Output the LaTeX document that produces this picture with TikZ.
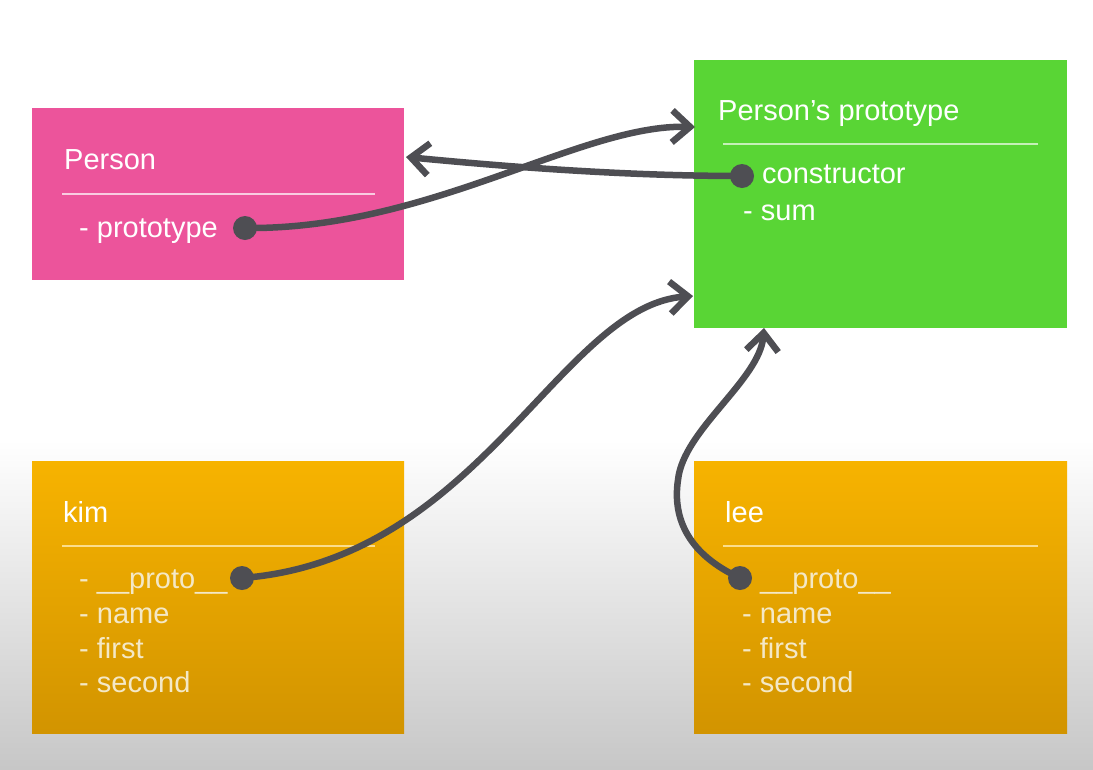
\documentclass[tikz,border=0pt]{standalone}
\usepackage{fontspec}
\setmainfont{Liberation Sans}
\usetikzlibrary{arrows.meta}

\definecolor{personpink}{HTML}{EC549B}
\definecolor{protogreen}{HTML}{59D535}
\definecolor{objtop}{HTML}{F7B300}
\definecolor{objbottom}{HTML}{D29400}
\definecolor{linkgray}{HTML}{4E4E53}
\definecolor{itemcream}{HTML}{F4E8C6}

\begin{document}
\begin{tikzpicture} [
    x=1pt, y=-1pt,
    box/.style={rectangle, inner sep=0pt, outer sep=0pt, minimum width=372pt},
    title/.style={anchor=base west, inner sep=0pt, text=white, font=\fontsize{29}{34}\selectfont},
    item/.style={title},
    sep/.style={line width=1.3pt},
    dot/.style={circle, fill=linkgray, minimum size=24pt, inner sep=0pt},
    link/.style={draw=linkgray, line width=6.5pt, -{Straight Barb[length=18pt,width=32pt]}},
    ]
    \useasboundingbox (0,0) rectangle (1093,769);
    % Background
    \fill[white] (0,0) rectangle (1093,769);
    \shade[top color=white, bottom color=black!22] (0,440) rectangle (1093,769);

    % Person
    \node[box, fill=personpink, minimum height=172pt] (person) at (218,194) {};
    \node[title] (persontitle) at (64,169) {Person};
    \draw[sep, draw=white!70!personpink] (62,194) -- (375,194);
    \node[item] (personproto) at (79,237) {- prototype};
    \node[dot] (persondot) at (245,228) {};

    % Person's prototype
    \node[box, fill=protogreen, minimum width=373pt, minimum height=268pt] (proto) at (880.5,194) {};
    \node[title] (prototitle) at (718,120) {Person’s prototype};
    \draw[sep, draw=white!65!protogreen] (723,144) -- (1038,144);
    \node[item] (protoctor) at (762,183) {constructor};
    \node[item] (protosum) at (743,220) {- sum};
    \node[dot] (ctordot) at (742,176) {};

    % kim
    \node[box, top color=objtop, bottom color=objbottom, minimum height=272pt] (kim) at (218,597) {};
    \node[title] (kimtitle) at (63,522) {kim};
    \draw[sep, draw=white!55!objtop] (62,546) -- (375,546);
    \node[item, text=itemcream] (kimproto) at (79,588) {- \_\_proto\_\_};
    \node[item, text=itemcream] (kimname) at (79,623) {- name};
    \node[item, text=itemcream] (kimfirst) at (79,658) {- first};
    \node[item, text=itemcream] (kimsecond) at (79,692) {- second};
    \node[dot] (kimdot) at (242,578) {};

    % lee
    \node[box, top color=objtop, bottom color=objbottom, minimum width=373pt, minimum height=272pt] (lee) at (880.5,597) {};
    \node[title] (leetitle) at (725,522) {lee};
    \draw[sep, draw=white!55!objtop] (723,546) -- (1038,546);
    \node[item, text=itemcream] (leeproto) at (760,588) {\_\_proto\_\_};
    \node[item, text=itemcream] (leename) at (742,623) {- name};
    \node[item, text=itemcream] (leefirst) at (742,658) {- first};
    \node[item, text=itemcream] (leesecond) at (742,692) {- second};
    \node[dot] (leedot) at (740,578) {};

    % Arrow ends
    \coordinate (protoinA) at (695,127);
    \coordinate (personin) at (406,157);
    \coordinate (protoinB) at (693,296);
    \coordinate (protoinC) at (764,328);

    % Links
    \draw[link] (persondot.center) .. controls (430,230) and (580,124) .. (protoinA);
    \draw[link] (ctordot.center) .. controls (620,176) and (500,166) .. (personin);
    \draw[link] (kimdot.center) .. controls (480,560) and (560,305) .. (protoinB);
    \draw[link] (leedot.center) .. controls (690,555) and (672,520) .. (678,480)
      .. controls (683,430) and (760,380) .. (protoinC);
  \end{tikzpicture}
\end{document}
